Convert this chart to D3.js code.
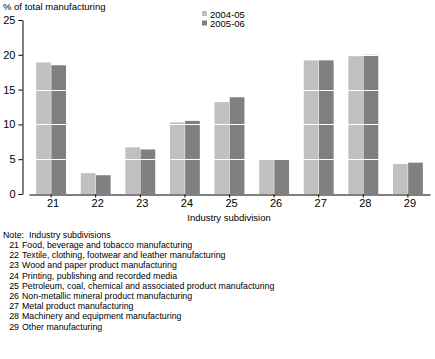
<!DOCTYPE html>
<html><head><meta charset="utf-8">
<script src="https://cdn.jsdelivr.net/npm/d3@7"></script>
<style>body{margin:0;background:#fff}svg{display:block}text{font-family:"Liberation Sans",Arial,sans-serif;fill:#000}</style>
</head><body>
<script>
const categories = ["21","22","23","24","25","26","27","28","29"];
const seriesNames = ["2004-05","2005-06"];
const values0405 = [18.9,3.0,6.7,10.3,13.2,5.0,19.2,19.8,4.3];
const values0506 = [18.5,2.7,6.4,10.5,13.9,4.9,19.2,20.0,4.5];
const yTicks = [0,5,10,15,20,25];
const noteLines = [
 ["21","Food, beverage and tobacco manufacturing"],
 ["22","Textile, clothing, footwear and leather manufacturing"],
 ["23","Wood and paper product manufacturing"],
 ["24","Printing, publishing and recorded media"],
 ["25","Petroleum, coal, chemical and associated product manufacturing"],
 ["26","Non-metallic mineral product manufacturing"],
 ["27","Metal product manufacturing"],
 ["28","Machinery and equipment manufacturing"],
 ["29","Other manufacturing"]
];
const colors = ["#c0c0c0","#808080"];
const W=435,H=359;
const svg=d3.select("body").append("svg").attr("width",W).attr("height",H);
const y=d3.scaleLinear().domain([0,25]).range([194,20]);
const x=d3.scaleBand().domain(categories).range([29,430]).paddingInner(0.33).paddingOuter(0.16);
const xs=d3.scaleBand().domain(seriesNames).range([0,x.bandwidth()]).paddingInner(0.03);
const data=categories.map((c,i)=>({c,v:[values0405[i],values0506[i]]}));
const g=svg.append("g");
g.selectAll("g.cat").data(data).join("g").attr("transform",d=>`translate(${x(d.c)},0)`)
 .selectAll("rect").data(d=>d.v.map((v,j)=>({v,s:seriesNames[j],j}))).join("rect")
 .attr("x",d=>xs(d.s)).attr("width",xs.bandwidth())
 .attr("y",d=>y(d.v)).attr("height",d=>y(0)-y(d.v)).attr("fill",d=>colors[d.j]);
g.selectAll("line.grid").data(yTicks.filter(t=>t>0&&t<25)).join("line")
 .attr("x1",29).attr("x2",430).attr("y1",d=>Math.round(y(d))+0.5).attr("y2",d=>Math.round(y(d))+0.5)
 .attr("stroke","#fff").attr("stroke-width",1);
const ya=svg.append("g").attr("transform","translate(22.5,0)")
 .call(d3.axisLeft(y).tickValues(yTicks).tickSize(4).tickPadding(3).tickSizeOuter(0));
ya.select(".domain").attr("stroke","#000");
ya.selectAll("text").style("font-size","11px").attr("fill","#000");
const xa=svg.append("g").attr("transform","translate(0,194.5)")
 .call(d3.axisBottom(x).tickSize(3).tickPadding(2).tickSizeOuter(0));
xa.select(".domain").attr("stroke","#000");
xa.selectAll("text").style("font-size","11px").attr("fill","#000").attr("dx",2);
svg.append("text").attr("x",3).attr("y",10).style("font-size","9.5px").text("% of total manufacturing");
svg.append("text").attr("x",229).attr("y",221).attr("text-anchor","middle").style("font-size","9.5px").text("Industry subdivision");
const lg=svg.append("g").selectAll("g").data(seriesNames).join("g").attr("transform",(d,i)=>`translate(202,${10+i*9.5})`);
lg.append("rect").attr("width",5).attr("height",5).attr("y",1).attr("fill",(d,i)=>colors[i]);
lg.append("text").attr("x",8).attr("y",7.5).style("font-size","9.5px").text(d=>d);
svg.append("text").attr("x",3).attr("y",238).style("font-size","8.8px").text("Note:");
svg.append("text").attr("x",29).attr("y",238).style("font-size","8.8px").text("Industry subdivisions");
const nl=svg.append("g").selectAll("g").data(noteLines).join("g").attr("transform",(d,i)=>`translate(0,${248+i*10.2})`);
nl.append("text").attr("x",19).attr("text-anchor","end").style("font-size","8.8px").text(d=>d[0]);
nl.append("text").attr("x",22).style("font-size","8.8px").text(d=>d[1]);
</script>
</body></html>
